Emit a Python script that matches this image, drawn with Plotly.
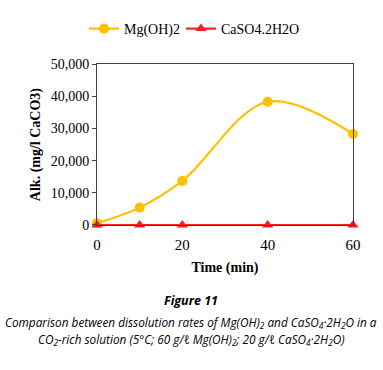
import plotly.graph_objects as go

time_min = [0, 10, 20, 40, 60]
mg_oh2 = [580, 5400, 13700, 38300, 28300]
caso4 = [0, 0, 0, 0, 0]
y_ticks = [0, 10000, 20000, 30000, 40000, 50000]
x_ticks = [0, 20, 40, 60]

serif = "Liberation Serif, Times New Roman, serif"
sans = "Open Sans, Noto Sans, sans-serif"

W, H = 383, 370
L, R, T, B = 97, 30, 53, 145

fig = go.Figure()
fig.add_trace(go.Scatter(
    x=time_min, y=mg_oh2, name="Mg(OH)2", mode="lines+markers",
    line=dict(color="#FFC000", width=2.2, shape="spline", smoothing=1.0),
    marker=dict(symbol="circle", size=10, color="#FFC000"),
    cliponaxis=False, legend="legend",
))
fig.add_trace(go.Scatter(
    x=time_min, y=caso4, name="CaSO4.2H2O", mode="lines+markers",
    line=dict(color="#FF2020", width=2.2),
    marker=dict(symbol="triangle-up", size=10, color="#FF2020"),
    cliponaxis=False, legend="legend2",
))

leg_common = dict(orientation="h", xref="container", xanchor="left",
                  y=1 - 29 / H, yref="container", yanchor="middle",
                  font=dict(size=14, family=serif), bgcolor="rgba(0,0,0,0)")

fig.update_layout(
    width=W, height=H,
    margin=dict(l=L, r=R, t=T, b=B),
    paper_bgcolor="white", plot_bgcolor="white",
    font=dict(family=serif, size=14, color="black"),
    showlegend=True,
    legend=dict(x=84 / W, **leg_common),
    legend2=dict(x=181 / W, **leg_common),
    xaxis=dict(range=[0, 60], tickvals=x_ticks, showgrid=False, zeroline=False,
               showline=True, linecolor="#404040", linewidth=1, mirror=True,
               ticks="", ticklabelstandoff=6, tickfont=dict(size=15, family=serif),
               title=dict(text="<b>Time (min)</b>", font=dict(size=14, family=serif), standoff=10)),
    yaxis=dict(range=[0, 50000], tickvals=y_ticks, tickformat=",d", showgrid=False,
               zeroline=False, showline=True, linecolor="#404040", linewidth=1, mirror=True,
               ticks="outside", ticklen=4, tickcolor="#404040",
               tickfont=dict(size=14, family=serif),
               title=dict(text="<b>Alk. (mg/l CaCO3)</b>", font=dict(size=14, family=serif), standoff=6)),
)

plot_h = H - T - B
plot_w = W - L - R
def ypix(py):
    return (H - B - py) / plot_h
cx = (191 - L) / plot_w

captions = [
    ("<b><i>Figure 11</i></b>", 306, 12.5),
    ("<i>Comparison between dissolution rates of Mg(OH)<sub>2</sub> and CaSO<sub>4</sub>·2H<sub>2</sub>O in a</i>", 329, 11.8),
    ("<i>CO<sub>2</sub>-rich solution (5°C; 60 g/ℓ Mg(OH)<sub>2</sub>; 20 g/ℓ CaSO<sub>4</sub>·2H<sub>2</sub>O)</i>", 347, 11.8),
]
for text, py, fs in captions:
    fig.add_annotation(text=text, x=cx, y=ypix(py), xref="paper", yref="paper",
                       xanchor="center", yanchor="middle", showarrow=False,
                       font=dict(family=sans, size=fs, color="black"))

fig.write_html("out.html", config={"displayModeBar": False},
               post_script="document.body.style.margin='0';document.body.style.padding='0';")
